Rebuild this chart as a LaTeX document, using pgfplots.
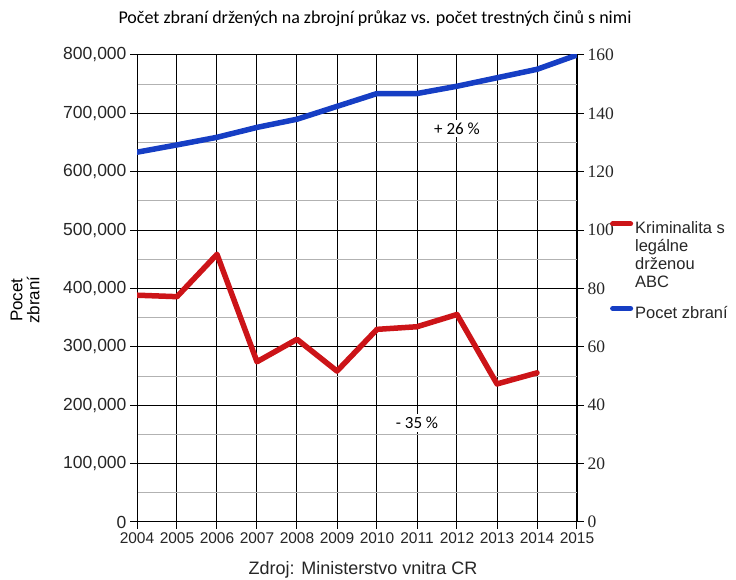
\documentclass[border=0pt]{standalone}
\usepackage{pgfplots}
\pgfplotsset{compat=1.18}
\usepackage{fontspec}
\setmainfont{Liberation Sans}
\newfontfamily\carlito{Carlito}
\newfontfamily\timesf{Liberation Serif}
\definecolor{gblue}{RGB}{22,62,196}
\definecolor{gred}{RGB}{204,20,24}
\begin{document}
\begin{tikzpicture}[x=1pt,y=1pt]
\useasboundingbox (0,0) rectangle (736,580);
\begin{axis}[
  at={(137pt,58pt)}, anchor=south west,
  scale only axis, width=440pt, height=467pt,
  xmin=2004, xmax=2015, ymin=0, ymax=800000,
  xtick={2004,2005,...,2015},
  ytick={0,100000,...,800000},
  minor ytick={50000,150000,...,750000},
  grid=both,
  major grid style={black, line width=1pt},
  minor grid style={black!30, line width=1pt},
  axis line style={black, line width=1pt},
  xtick pos=bottom, ytick pos=left,
  tick align=outside, major tick length=7pt, minor tick length=0pt,
  tick style={black, line width=1pt},
  scaled y ticks=false,
  /pgf/number format/assume math mode=true,
  yticklabel style={font=\fontsize{17.5}{17.5}\selectfont, text=black!85, /pgf/number format/fixed, /pgf/number format/1000 sep={,}},
  xticklabel style={font=\fontsize{15.5}{15.5}\selectfont, text=black!85, /pgf/number format/1000 sep={}},
  ylabel={Pocet\\zbraní},
  ylabel style={align=center, font=\fontsize{17}{17}\selectfont, at={(axis description cs:-0.2545,0.475)}, anchor=center},
]
\addplot[gblue, line width=5.5pt, line join=round, line cap=round] coordinates {
(2004,633500) (2005,646000) (2006,659000) (2007,676000) (2008,690000)
(2009,712000) (2010,734000) (2011,734000) (2012,746500) (2013,761000)
(2014,775500) (2015,800000)};
\node[fill=white, inner sep=3pt, font=\carlito\fontsize{17}{17}\selectfont] at (axis cs:2012,674000) {+ 26 \%};
\node[fill=white, inner sep=3pt, font=\carlito\fontsize{17}{17}\selectfont] at (axis cs:2011,169500) {- 35 \%};
\end{axis}
\begin{axis}[
  at={(137pt,58pt)}, anchor=south west,
  scale only axis, width=440pt, height=467pt,
  xmin=2004, xmax=2015, ymin=0, ymax=160,
  axis x line=none, axis y line*=right,
  axis line style={black, line width=1pt},
  ytick={0,20,...,160},
  tick align=outside, major tick length=7pt,
  tick style={black, line width=1pt},
  yticklabel={\timesf\fontsize{17.5}{17.5}\selectfont\pgfmathprintnumber[assume math mode=true]{\tick}},
  yticklabel style={text=black!85},
  legend style={at={(axis description cs:1.068,0.652)}, anchor=north west, draw=none, fill=none,
    font=\fontsize{16.5}{18}\selectfont, row sep=67pt, text=black!85},
  legend cell align=left,
  legend image code/.code={\draw[#1, line width=5pt, line cap=round] (0pt,4.5pt) -- (18pt,4.5pt);},
]
\addplot[gred, line width=5.5pt, line join=round, line cap=round] coordinates {
(2004,77.7) (2005,77.2) (2006,91.7) (2007,54.9) (2008,62.6) (2009,51.7)
(2010,66.0) (2011,66.9) (2012,71.1) (2013,47.3) (2014,51.1)};
\addlegendentry{\parbox[t]{100pt}{Kriminalita s\\legálne\\drženou\\ABC}}
\addlegendimage{gblue}
\addlegendentry{Pocet zbraní}
\node[rotate=-90, font=\timesf\fontsize{16.5}{16.5}\selectfont, text=black!85] at (axis description cs:1.13,0.212) {Počet činů};
\end{axis}
\node[font=\carlito\fontsize{18}{18}\selectfont] at (375,561) {Počet zbraní držených na zbrojní průkaz vs. počet trestných činů s nimi};
\node[font=\fontsize{18}{18}\selectfont, text=black!85] at (363,10) {Zdroj: Ministerstvo vnitra CR};
\end{tikzpicture}
\end{document}
